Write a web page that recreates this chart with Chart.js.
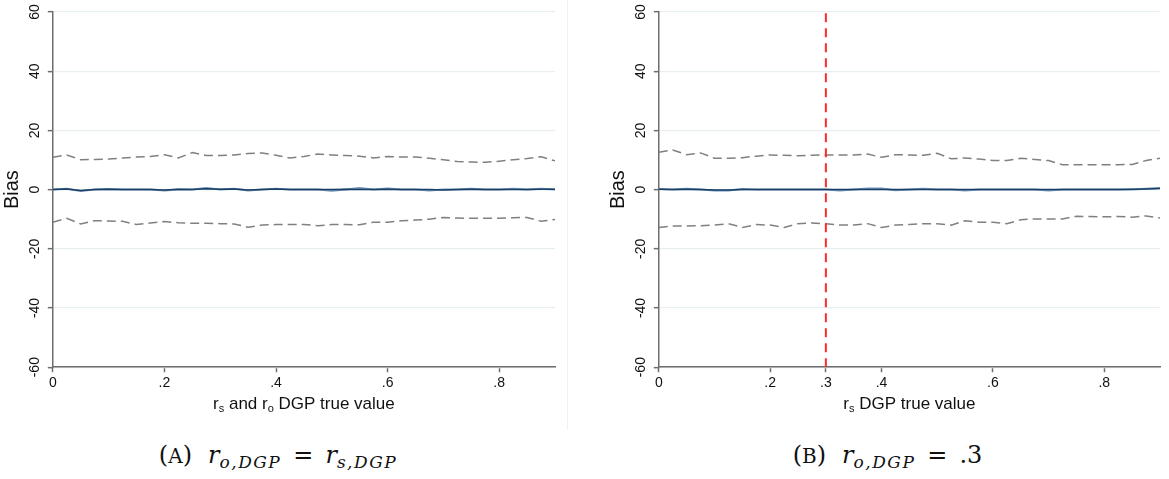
<!DOCTYPE html>
<html>
<head>
<meta charset="utf-8">
<script src="https://cdn.jsdelivr.net/npm/chart.js@4.4.1/dist/chart.umd.min.js"></script>
<style>
  body { margin: 0; background: #fff; width: 1169px; height: 479px; position: relative; overflow: hidden; }
  .panel { position: absolute; top: 0; height: 420px; }
  #panelA { left: 0; width: 567px; }
  #panelB { left: 606px; width: 563px; }
  .sep { position: absolute; left: 567px; top: 0; width: 1px; height: 430px; background: #f1f1f1; }
  .caption {
    position: absolute; top: 441px; text-align: center;
    font-family: "DejaVu Serif", "Liberation Serif", serif; font-size: 24px; color: #111;
  }
  .caption .sc { font-size: 20px; }
  .caption i { font-style: italic; }
  .caption .lab { margin-right: 16px; }
  .caption .eq { margin: 0 12px; }
  .caption sub { font-size: 17px; font-style: italic; vertical-align: -5px; line-height: 0; letter-spacing: 1.5px; }
</style>
</head>
<body>
<div class="panel" id="panelA"><canvas id="chartA"></canvas></div>
<div class="sep"></div>
<div class="panel" id="panelB"><canvas id="chartB"></canvas></div>
<div class="caption" style="left:0;width:556px"><span class="lab">(<span class="sc">A</span>)</span><i>r</i><sub>o,DGP</sub><span class="eq">=</span><i>r</i><sub>s,DGP</sub></div>
<div class="caption" style="left:606px;width:563px"><span class="lab">(<span class="sc">B</span>)</span><i>r</i><sub>o,DGP</sub><span class="eq">=</span>.3</div>
<script>
// DGP true values on the x axis
const xValues = [0, 0.025, 0.05, 0.075, 0.1, 0.125, 0.15, 0.175, 0.2, 0.225, 0.25, 0.275, 0.3,
  0.325, 0.35, 0.375, 0.4, 0.425, 0.45, 0.475, 0.5, 0.525, 0.55, 0.575, 0.6, 0.625, 0.65,
  0.675, 0.7, 0.725, 0.75, 0.775, 0.8, 0.825, 0.85, 0.875, 0.9];

// panel A: r_o = r_s
const upperA = [10.9, 11.7, 10.1, 10.2, 10.3, 10.7, 11, 11.2, 11.8, 10.7, 12.5, 11.5, 11.5,
  11.7, 12.2, 12.4, 11.6, 10.7, 11.2, 12, 11.7, 11.5, 11.3, 10.7, 11.2, 11, 11,
  10.6, 10.1, 9.5, 9.3, 9.2, 9.6, 10.1, 10.5, 11.1, 9.7];
const lowerA = [-11, -9.7, -11.6, -10.5, -10.6, -10.7, -11.8, -11.3, -10.8, -11.2, -11.4, -11.4, -11.5,
  -11.6, -12.7, -12, -11.8, -11.8, -11.8, -12.2, -11.8, -11.8, -11.9, -11, -11, -10.5, -10.3,
  -10, -9.4, -9.6, -9.7, -9.7, -9.7, -9.5, -9.4, -10.7, -10.1];
const meanA = [0, 0.2, -0.3, 0, 0.1, 0, 0, 0, -0.1, 0.1, 0, 0.3, 0.1, 0.2, -0.1, 0, 0.2, 0,
  0, 0, 0, 0.1, 0, 0, 0.1, 0, 0, 0, -0.1, 0, 0.1, 0, 0, 0, 0, 0.1, 0.1];
const medianA = [0, 0.3, -0.5, 0, 0.2, 0, 0, 0, -0.3, 0, 0, 0.5, 0, 0.3, -0.3, 0, 0.3, 0,
  0, 0, -0.4, 0, 0.5, 0, 0.4, 0, 0, -0.3, 0, 0, 0.3, 0, 0, 0.3, 0, 0.3, 0];

// panel B: r_o fixed at .3
const upperB = [12.6, 13.4, 11.8, 12.4, 10.6, 10.6, 10.8, 11.3, 11.7, 11.6, 11.4, 11.6, 11.7,
  11.7, 11.7, 12, 10.9, 11.8, 11.7, 11.6, 12.3, 10.4, 10.7, 10.3, 9.8, 9.8, 10.6,
  10.2, 9.8, 8.4, 8.4, 8.4, 8.4, 8.4, 8.5, 9.8, 10.6];
const lowerB = [-12.8, -12.3, -12.3, -12.2, -12, -11.5, -12.8, -11.8, -12, -12.8, -11.5, -11.3, -11.5,
  -12, -12, -11.5, -12.8, -12, -11.8, -11.5, -11.5, -12, -10.5, -11, -11, -11.5, -10.2,
  -9.9, -9.9, -9.9, -9, -9.1, -9.2, -9.1, -9.3, -8.9, -9.6];
const meanB = [0.1, 0, 0.1, 0, -0.1, -0.1, 0, 0, 0, 0, 0, 0, 0, 0, 0, 0, 0, 0,
  0, 0, 0, 0, 0, 0, 0, 0, 0, 0, 0, 0, 0, 0, 0, 0, 0.1, 0.2, 0.4];
const medianB = [0.2, 0, 0.3, 0, -0.3, -0.3, 0.2, 0, 0, 0, 0, 0, 0, -0.3, 0, 0.4, 0.4, -0.2,
  0, 0.3, 0, 0, -0.3, 0, 0, 0, 0, 0, -0.3, 0, 0, 0, 0, 0, 0, 0.3, 0.5];
const trueValueB = 0.3;

const yTicks = [-60, -40, -20, 0, 20, 40, 60];
const xTicksA = [0, 0.2, 0.4, 0.6, 0.8];
const xTicksB = [0, 0.2, 0.3, 0.4, 0.6, 0.8];

const FONT = '"Liberation Sans", Arial, sans-serif';
const AXIS = '#6e6e6e';

function pts(ys) {
  return ys.map((y, i) => ({ x: xValues[i], y: y }));
}

function fmt(v) {
  if (v === 0) return '0';
  return String(+v.toFixed(2)).replace(/^0\./, '.').replace(/^-0\./, '-.');
}

// x axis title with subscripts (r_s, r_o)
const xTitleSub = {
  id: 'xTitleSub',
  afterDraw(chart, args, opts) {
    const { ctx, chartArea } = chart;
    const big = '17px ' + FONT;
    const small = '11px ' + FONT;
    ctx.save();
    let total = 0;
    opts.parts.forEach(p => {
      ctx.font = p[1] ? small : big;
      total += ctx.measureText(p[0]).width;
    });
    let x = (chartArea.left + chartArea.right) / 2 - total / 2;
    const y = chartArea.bottom + opts.offset;
    ctx.fillStyle = '#111';
    ctx.textBaseline = 'alphabetic';
    ctx.textAlign = 'left';
    opts.parts.forEach(p => {
      ctx.font = p[1] ? small : big;
      ctx.fillText(p[0], x, p[1] ? y + 3 : y);
      x += ctx.measureText(p[0]).width;
    });
    ctx.restore();
  }
};

function makeChart(id, upper, lower, mean, median, xTicks, titleParts, padRight, trueValue) {
  const datasets = [];
  if (trueValue !== undefined) {
    datasets.push({
      data: [{ x: trueValue, y: -60 }, { x: trueValue, y: 60 }],
      borderColor: '#ff2a2a', borderWidth: 2, borderDash: [9, 6]
    });
  }
  datasets.push(
    { data: pts(mean), borderColor: '#1a3f66', borderWidth: 1.5 },
    { data: pts(median), borderColor: '#6f93b8', borderWidth: 2 },
    { data: pts(upper), borderColor: '#808080', borderWidth: 1.5, borderDash: [9, 5] },
    { data: pts(lower), borderColor: '#808080', borderWidth: 1.5, borderDash: [9, 5] }
  );

  return new Chart(document.getElementById(id), {
    type: 'line',
    data: { datasets: datasets },
    plugins: [xTitleSub],
    options: {
      responsive: true,
      maintainAspectRatio: false,
      animation: false,
      elements: { point: { radius: 0 }, line: { tension: 0 } },
      layout: { padding: { left: 0, right: padRight, top: 12, bottom: 25 } },
      plugins: {
        legend: { display: false },
        tooltip: { enabled: false },
        xTitleSub: { parts: titleParts, offset: 42 }
      },
      scales: {
        x: {
          type: 'linear', min: 0, max: 0.9,
          afterBuildTicks: s => { s.ticks = xTicks.map(v => ({ value: v })); },
          ticks: { font: { family: FONT, size: 14 }, color: '#111', padding: 3,
                   maxRotation: 0, autoSkip: false, callback: v => fmt(v) },
          grid: { drawOnChartArea: false, tickLength: 5, tickColor: AXIS, tickWidth: 1.5 },
          border: { color: AXIS, width: 1.5 }
        },
        y: {
          min: -60, max: 60,
          afterBuildTicks: s => { s.ticks = yTicks.map(v => ({ value: v })); },
          ticks: { font: { family: FONT, size: 14 }, color: '#111', padding: 3,
                   minRotation: 90, maxRotation: 90, crossAlign: 'center',
                   callback: v => String(v) },
          grid: { color: '#e8eff1', lineWidth: 1.3, tickLength: 5, tickColor: AXIS, tickWidth: 1.5 },
          border: { color: AXIS, width: 1.5 },
          title: { display: true, text: 'Bias', color: '#111',
                   font: { family: FONT, size: 20 }, padding: { top: 0, bottom: 1 } }
        }
      }
    }
  });
}

makeChart('chartA', upperA, lowerA, meanA, medianA, xTicksA,
  [['r', 0], ['s', 1], [' and r', 0], ['o', 1], [' DGP true value', 0]], 12);
makeChart('chartB', upperB, lowerB, meanB, medianB, xTicksB,
  [['r', 0], ['s', 1], [' DGP true value', 0]], 9, trueValueB);
</script>
</body>
</html>
